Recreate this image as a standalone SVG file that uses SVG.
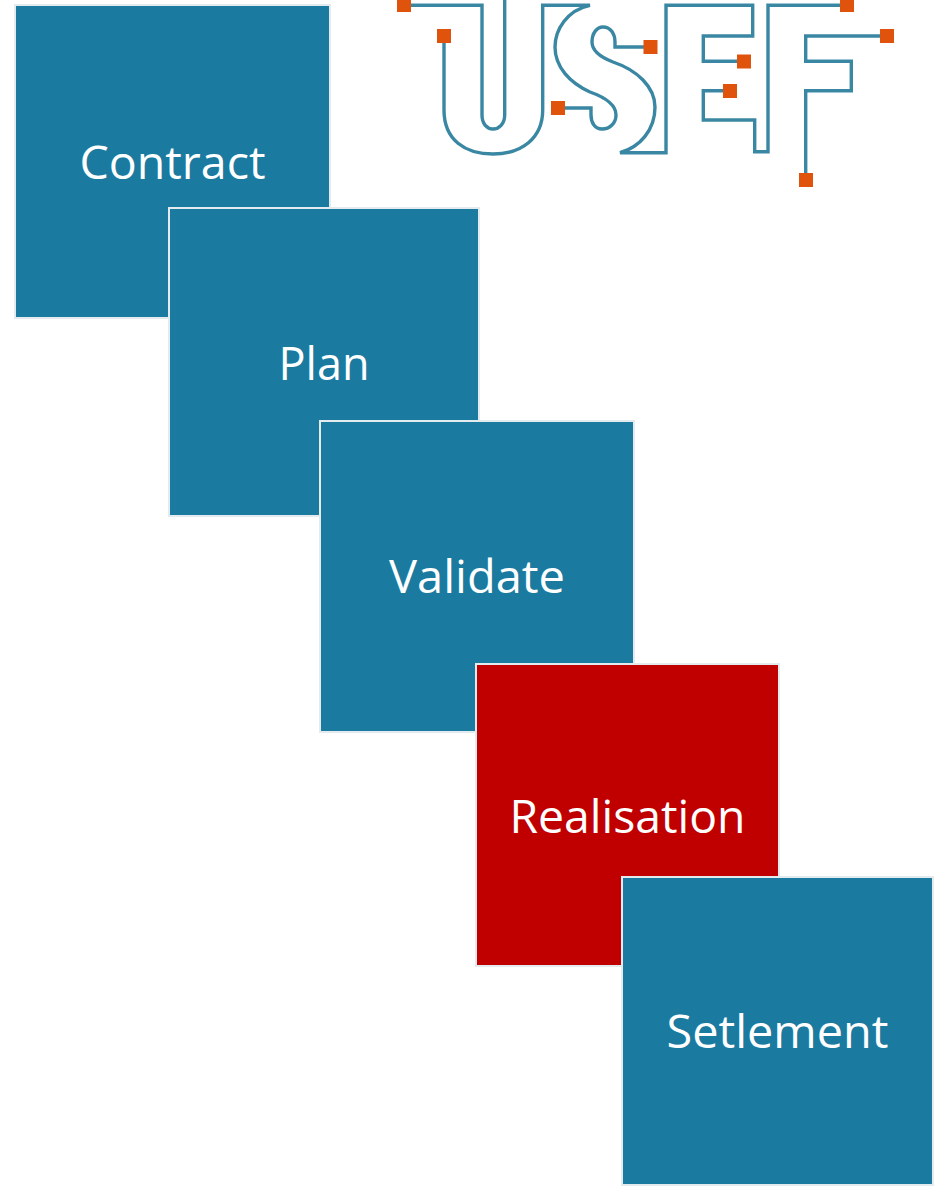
<svg xmlns="http://www.w3.org/2000/svg" width="935" height="1189" viewBox="0 0 935 1189">
<style>
.box{stroke:#e4ebef;stroke-width:2}
.teal{fill:#1a7aa0}
.red{fill:#c00000}
.lbl{font-family:"Open Sans","Noto Sans","Liberation Sans",sans-serif;font-size:46px;fill:#fff;text-anchor:middle}
.ln{fill:none;stroke:#3a87a3;stroke-width:3.4;stroke-linejoin:miter}
.sq{fill:#e0530c}
</style>
<rect width="935" height="1189" fill="#fff"/>
<g id="logo">
<path class="ln" d="M404 5.3H482V115C482 124 487 129 493 129C499 129 504.7 124 504.7 115V0"/>
<path class="ln" d="M444 36V110C444 140 465 154 493 154C522 154 542.7 138 542.7 110V5.3H590C567 10 555 30 555 47C555 67 570 83 590 92C607 98 616 105 616 115C616 123 610 129 602 129C595 129 591 123 591 115V108H558"/>
<path class="ln" d="M650 47H615V42C615 33 610 27 603 27C597 27 592 33 592 42C592 50 600 57 613 62C637 70 655 87 655 107C655 130 640 147 620 152.700H666V5.300H752.700V36H703.300V61.300H744"/>
<path class="ln" d="M730 90.700H703.300V120H754.700V151.700H768V5.300H847"/>
<path class="ln" d="M887 36H805.700V61.300H851.300V90.700H805.700V180"/>
<rect class="sq" x="397" y="-2" width="14" height="14"/>
<rect class="sq" x="437" y="29" width="14" height="14"/>
<rect class="sq" x="551" y="101" width="14" height="14"/>
<rect class="sq" x="643.500" y="40" width="14" height="14"/>
<rect class="sq" x="737" y="54.500" width="14" height="14"/>
<rect class="sq" x="723" y="84" width="14" height="14"/>
<rect class="sq" x="840" y="-2" width="14" height="14"/>
<rect class="sq" x="880" y="29" width="14" height="14"/>
<rect class="sq" x="799" y="173" width="14" height="14"/>
</g>
<g id="contract"><rect class="box teal" x="15" y="5" width="315" height="313"/><text class="lbl" x="172.500" y="179" textLength="186" lengthAdjust="spacingAndGlyphs">Contract</text></g>
<g id="plan"><rect class="box teal" x="169" y="208" width="310" height="308"/><text class="lbl" x="324" y="380" textLength="91" lengthAdjust="spacingAndGlyphs">Plan</text></g>
<g id="validate"><rect class="box teal" x="320" y="421" width="314" height="311"/><text class="lbl" x="477" y="593" textLength="176" lengthAdjust="spacingAndGlyphs">Validate</text></g>
<g id="realisation"><rect class="box red" x="476" y="664" width="303" height="302"/><text class="lbl" x="627.500" y="833" textLength="236" lengthAdjust="spacingAndGlyphs">Realisation</text></g>
<g id="setlement"><rect class="box teal" x="622" y="877" width="311" height="308"/><text class="lbl" x="777.500" y="1048" textLength="222" lengthAdjust="spacingAndGlyphs">Setlement</text></g>
<g id="connectors"/>
</svg>
